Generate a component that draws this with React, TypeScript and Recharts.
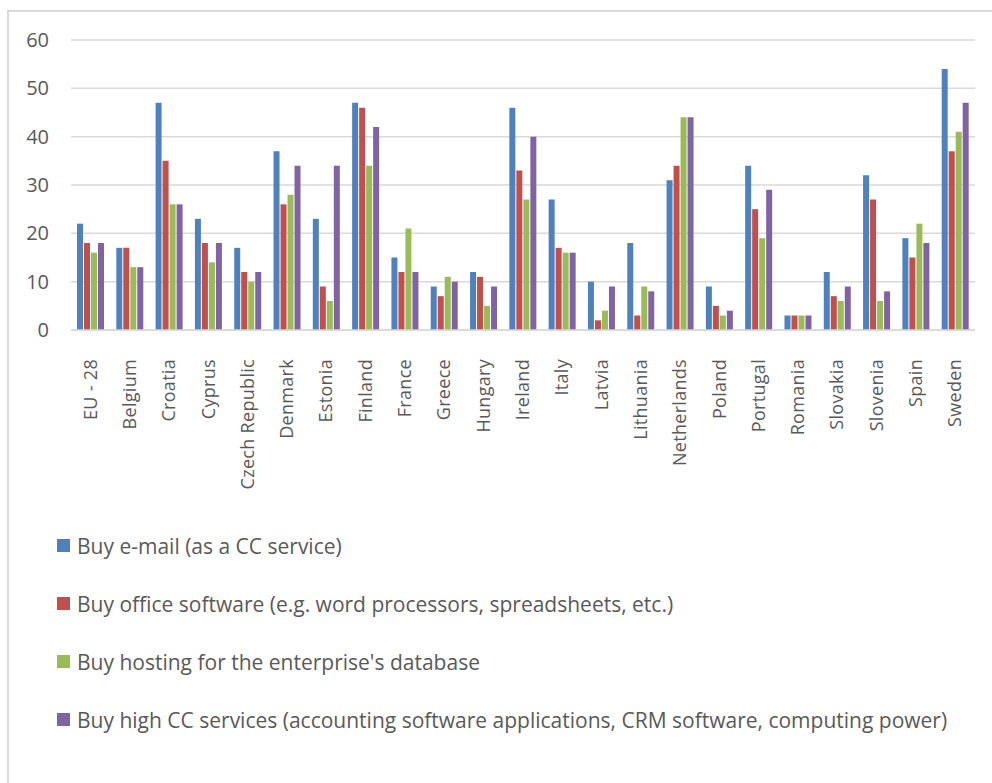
import React from "react";
import { BarChart, Bar, XAxis, YAxis, CartesianGrid } from "recharts";

// Share of enterprises buying cloud computing services, by country (%)
const countries = [
  "EU - 28", "Belgium", "Croatia", "Cyprus", "Czech Republic", "Denmark", "Estonia",
  "Finland", "France", "Greece", "Hungary", "Ireland", "Italy", "Latvia", "Lithuania",
  "Netherlands", "Poland", "Portugal", "Romania", "Slovakia", "Slovenia", "Spain", "Sweden",
];

const email = [22, 17, 47, 23, 17, 37, 23, 47, 15, 9, 12, 46, 27, 10, 18, 31, 9, 34, 3, 12, 32, 19, 54];
const office = [18, 17, 35, 18, 12, 26, 9, 46, 12, 7, 11, 33, 17, 2, 3, 34, 5, 25, 3, 7, 27, 15, 37];
const hosting = [16, 13, 26, 14, 10, 28, 6, 34, 21, 11, 5, 27, 16, 4, 9, 44, 3, 19, 3, 6, 6, 22, 41];
const highCC = [18, 13, 26, 18, 12, 34, 34, 42, 12, 10, 9, 40, 16, 9, 8, 44, 4, 29, 3, 9, 8, 18, 47];

const yTicks = [0, 10, 20, 30, 40, 50, 60];

const series = [
  { key: "email", name: "Buy e-mail (as a CC service)", color: "#4F81BD", values: email },
  { key: "office", name: "Buy office software (e.g. word processors, spreadsheets, etc.)", color: "#C0504D", values: office },
  { key: "hosting", name: "Buy hosting for the enterprise's database", color: "#9BBB59", values: hosting },
  { key: "highCC", name: "Buy high CC services (accounting software applications, CRM software, computing power)", color: "#8064A2", values: highCC },
];

const data = countries.map((country, i) => {
  const row: Record<string, string | number> = { country };
  series.forEach((s) => {
    row[s.key] = s.values[i];
  });
  return row;
});

const AXIS_FONT = "'Open Sans', 'DejaVu Sans', sans-serif";
const LEGEND_FONT = "'Open Sans', sans-serif";

const CountryTick = (props: any) => {
  const { x, y, payload } = props;
  return (
    <text
      x={0}
      y={0}
      transform={`translate(${x + 6}, ${y + 21}) rotate(-90)`}
      textAnchor="end"
      fill="#595959"
      fontSize={18}
      letterSpacing={0.3}
      fontFamily={AXIS_FONT}
    >
      {payload.value}
    </text>
  );
};

export default function App() {
  return (
    <div
      style={{
        position: "absolute",
        left: 0,
        top: 0,
        width: 992,
        height: 783,
        overflow: "hidden",
        background: "#fff",
      }}
    >
      <div
        style={{
          position: "absolute",
          left: 7,
          top: 10,
          width: 1000,
          height: 800,
          borderLeft: "2px solid #D9D9D9",
          borderTop: "2px solid #D9D9D9",
          boxSizing: "border-box",
        }}
      />
      <div style={{ position: "absolute", left: 0, top: 0 }}>
        <BarChart
          width={992}
          height={500}
          data={data}
          margin={{ top: 40, right: 17, bottom: 0, left: 0 }}
          barCategoryGap={6}
          barGap={1}
        >
          <CartesianGrid vertical={false} stroke="#D9D9D9" strokeWidth={1.5} />
          <XAxis
            dataKey="country"
            interval={0}
            height={170}
            tickLine={false}
            axisLine={{ stroke: "#D9D9D9", strokeWidth: 1.5 }}
            tick={<CountryTick />}
          />
          <YAxis
            width={71}
            domain={[0, 60]}
            ticks={yTicks}
            axisLine={false}
            tickLine={false}
            tickMargin={16}
            tick={{ fill: "#595959", fontSize: 20, fontFamily: AXIS_FONT }}
          />
          {series.map((s) => (
            <Bar
              key={s.key}
              dataKey={s.key}
              name={s.name}
              fill={s.color}
              barSize={6}
              isAnimationActive={false}
            />
          ))}
        </BarChart>
      </div>
      <div style={{ position: "absolute", left: 57, top: 531 }}>
        {series.map((s) => (
          <div
            key={s.key}
            style={{
              display: "flex",
              alignItems: "center",
              height: 29,
              marginBottom: 29,
              whiteSpace: "nowrap",
            }}
          >
            <span
              style={{
                display: "inline-block",
                width: 13,
                height: 13,
                background: s.color,
                marginRight: 7,
              }}
            />
            <span
              style={{
                fontFamily: LEGEND_FONT,
                fontSize: 21,
                color: "#595959",
              }}
            >
              {s.name}
            </span>
          </div>
        ))}
      </div>
    </div>
  );
}
